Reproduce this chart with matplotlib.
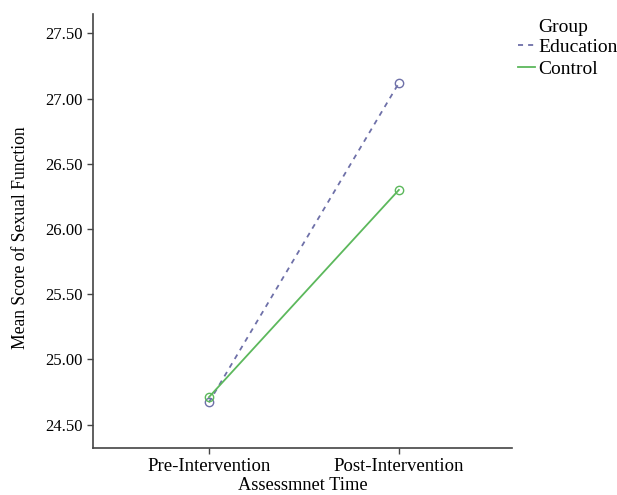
import matplotlib
matplotlib.use('Agg')
import matplotlib.pyplot as plt

plt.rcParams['font.family'] = ['Liberation Serif', 'DejaVu Serif']

times = ['Pre-Intervention', 'Post-Intervention']
education = [24.67, 27.12]
control = [24.71, 26.30]
yticks = [24.5, 25.0, 25.5, 26.0, 26.5, 27.0, 27.5]

fig = plt.figure(figsize=(6.17, 4.95), dpi=100)
ax = fig.add_axes([0.1507, 0.0949, 0.679, 0.877])

x = list(range(len(times)))
ax.plot(x, education, linestyle=(0, (2.8, 2.8)), color='#6e70a8', lw=1.3,
        marker='o', mfc='none', mec='#6e70a8', ms=6, label='Education')
ax.plot(x, control, linestyle='-', color='#5cb85c', lw=1.3,
        marker='o', mfc='none', mec='#5cb85c', ms=6, label='Control')

ax.set_xlim(-0.61, 1.595)
ax.set_ylim(24.32, 27.65)
ax.set_xticks(x)
ax.set_xticklabels(times, fontsize=13.5)
ax.set_yticks(yticks)
ax.set_yticklabels([f'{v:.2f}' for v in yticks], fontsize=12)
ax.tick_params(length=4, width=1, color='#444444')
ax.spines['top'].set_visible(False)
ax.spines['right'].set_visible(False)
for s in ['left', 'bottom']:
    ax.spines[s].set_color('#444444')
    ax.spines[s].set_linewidth(1.2)

ax.set_xlabel('Assessmnet Time', fontsize=13.2, labelpad=1)
ax.set_ylabel('Mean Score of Sexual Function', fontsize=12.7)
ax.yaxis.set_label_coords(-0.153, 0.484)

# legend title placed by hand so it lines up with the entry text
fig.text(538 / 617, 1 - 27 / 495, 'Group', fontsize=14, ha='left', va='center')
leg = ax.legend(loc='upper left', bbox_to_anchor=(1.014, 0.943),
                frameon=False, fontsize=14,
                handlelength=0.9, handletextpad=0.15, borderaxespad=0,
                borderpad=0, labelspacing=0.2)
for h in leg.legend_handles:
    h.set_marker('')

fig.savefig('out.png', dpi=100)
